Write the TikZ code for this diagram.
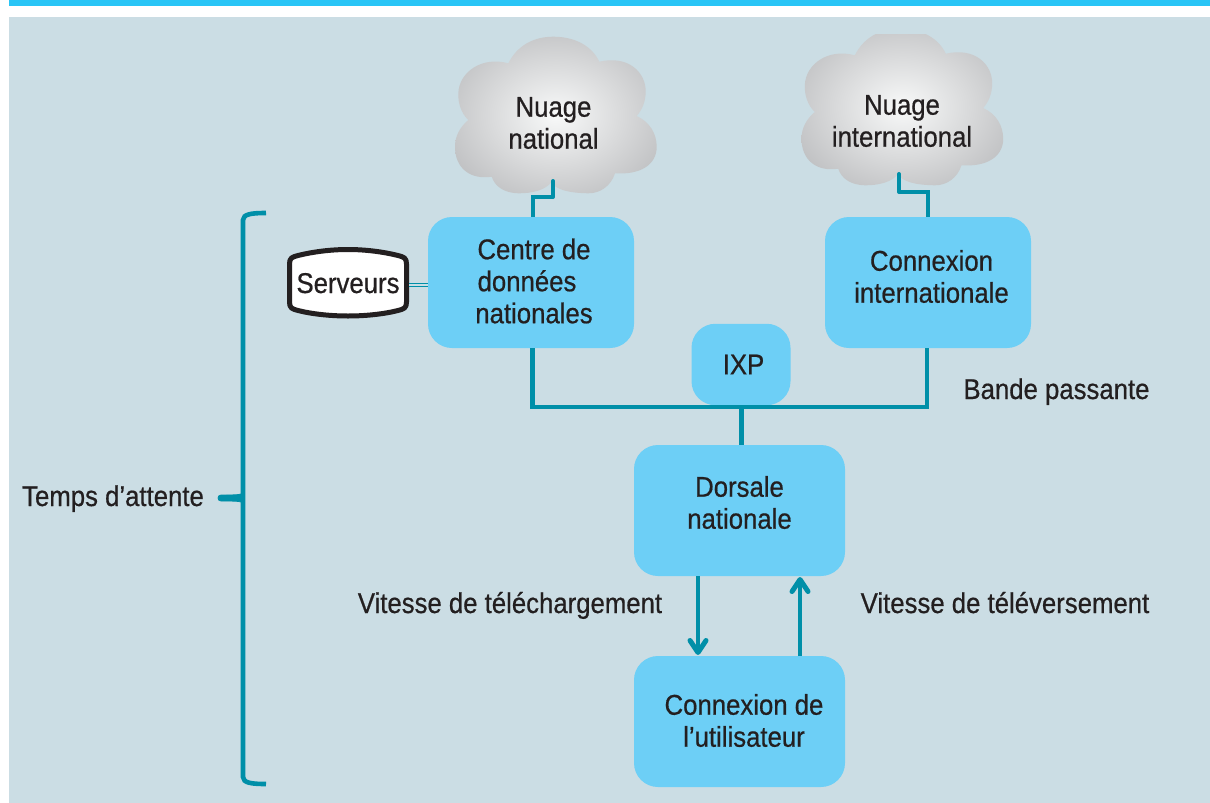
\documentclass[tikz,border=0pt]{standalone}
\usepackage{fontspec}
\setmainfont[FakeStretch=0.90,FakeBold=0.6]{Liberation Sans}
\usetikzlibrary{arrows.meta}
\definecolor{panel}{HTML}{CBDDE4}
\definecolor{topbar}{HTML}{29C5F6}
\definecolor{boxblue}{HTML}{6DCFF6}
\definecolor{teal}{HTML}{008FA8}
\definecolor{ink}{HTML}{231F20}
\definecolor{cloudedge}{HTML}{BBBCBE}
\definecolor{cloudmid}{HTML}{F8F9F9}
\pgfdeclareradialshading{cloudglow}{\pgfpoint{0bp}{0bp}}{color(0bp)=(cloudmid); color(32bp)=(cloudedge); color(50bp)=(cloudedge)}
\newcommand{\cloudshape}{
  (508.3,63.3) .. controls (517,46) and (533,36.7) .. (553.3,36.7)
  .. controls (575,36.7) and (592,46) .. (599.3,61.7)
  .. controls (628,55) and (646,72) .. (645.7,92)
  .. controls (645.5,102) and (642,110) .. (636.7,116)
  .. controls (650,122) and (656.7,134) .. (656.7,146.7)
  .. controls (656.7,165) and (640,175) .. (615,173.3)
  .. controls (611,186) and (600,193.5) .. (588.3,193.3)
  .. controls (570,193) and (555,190) .. (551.7,181.7)
  .. controls (546,190) and (532,193.5) .. (518.3,193.3)
  .. controls (505,193) and (495,187) .. (491.7,176.7)
  .. controls (470,180) and (455,168) .. (455,146.7)
  .. controls (455,136) and (460,127) .. (468.3,120)
  .. controls (461,113) and (458,103) .. (458.3,93.3)
  .. controls (459,72) and (482,56) .. (508.3,63.3) -- cycle}
\tikzset{
  bx/.style={fill=boxblue,rounded corners=24pt,minimum width=#1,minimum height=131pt,inner sep=0pt,outer sep=0pt},
  lbl/.style={font=\fontsize{28.6}{32}\selectfont,text=ink,align=center,inner sep=0pt},
  link/.style={draw=teal,line width=4.7pt},
  clink/.style={draw=teal,line width=4pt},
  flow/.style={draw=teal,line width=4.7pt,-{Straight Barb[length=12pt,width=16pt,line width=5pt,round]}},
}
\begin{document}
\begin{tikzpicture}[x=1pt,y=-1pt]
\useasboundingbox (0,0) rectangle (1210,803);
\fill[white] (0,0) rectangle (1210,803);
\fill[topbar] (9,0) rectangle (1210,6);
\fill[panel] (9,17) rectangle (1210,803);

% clouds
\shade[shading=cloudglow] \cloudshape;
\begin{scope}
\clip (780,34) rectangle (1020,210);
\begin{scope}[shift={(346.5,-8)}]
\shade[shading=cloudglow] \cloudshape;
\end{scope}
\end{scope}
\node[lbl] (nn) at (553.5,123) {Nuage\\national};
\node[lbl] (ni) at (902,121) {Nuage\\international};
\coordinate (nnport) at (553,181);
\coordinate (niport) at (899,174);

% boxes
\node[bx=206pt,label={[lbl,xshift=3pt,yshift=1.5pt]center:Centre de\\\hspace*{-14pt}données\\nationales}] (cd) at (531,282.5) {};
\node[bx=206pt,label={[lbl,xshift=3.5pt,yshift=6pt]center:Connexion\\internationale}] (ci) at (928,282.5) {};
\node[bx=99pt,minimum height=81.5pt,label={[lbl,xshift=2.5pt]center:IXP}] (ixp) at (741,364.5) {};
\node[bx=211pt,label={[lbl,yshift=8pt]center:Dorsale\\nationale}] (ds) at (739.5,510.5) {};
\node[bx=211pt,label={[lbl,xshift=4.5pt,yshift=1pt]center:Connexion de\\l’utilisateur}] (cu) at (739.5,721.5) {};

% junction
\coordinate (jl) at ([xshift=1.5pt]cd.south |- 0,407);
\coordinate (jr) at ([xshift=-1pt]ci.south |- 0,407);
\coordinate (jm) at (741.5,407);
\draw[link,line join=miter] ([xshift=1.5pt]cd.south) -- (jl) -- (jr) -- ([xshift=-1pt]ci.south);
\draw[link] (jm) -- (jm |- ds.north);

% cloud links
\coordinate (nnb) at (553,197);
\draw[clink,line cap=round] (nnport) -- (nnb);
\draw[clink,line join=miter] (nnport |- nnb) -- ([xshift=1.5pt]nnb -| cd.north) -- ([xshift=1.5pt]cd.north);
\coordinate (nib) at (899,192);
\draw[clink,line cap=round] (niport) -- (nib);
\draw[clink,line join=miter] (nib) -- (nib -| ci.north) -- (ci.north);

% serveurs
\draw[fill=white,draw=ink,line width=5pt,line join=round]
  (289.5,264) .. controls (289.5,258) and (292,257) .. (298,255.5)
  .. controls (312,252) and (330,249.5) .. (348,249.5)
  .. controls (366,249.5) and (384,252) .. (398,255.5)
  .. controls (404,257) and (406.5,258) .. (406.5,264)
  -- (406.5,302) .. controls (406.5,308) and (404,309) .. (398,310.5)
  .. controls (384,314) and (366,316) .. (348,316)
  .. controls (330,316) and (312,314) .. (298,310.5)
  .. controls (292,309) and (289.5,308) .. (289.5,302) -- cycle;
\node[lbl,anchor=base] (srv) at (348,293) {Serveurs};
\coordinate (srve) at (409,285);
\draw[draw=teal,line width=1.5pt,double=panel,double distance=1.2pt] (srve) -- (srve -| cd.west);

% arrows
\coordinate (dla) at (698,576);
\coordinate (dlb) at (698,655);
\coordinate (ula) at (800,656);
\coordinate (ulb) at (800,577);
\draw[flow] (dla) -- (dlb);
\draw[flow] (ula) -- (ulb);

% bracket
\coordinate (bt) at (266,213);
\coordinate (bb) at (266,784);
\draw[draw=teal,line width=4.6pt] (bt) .. controls (252,213) and (243,214) .. (243,220) -- (243,777) .. controls (243,783) and (252,784) .. (bb);
\draw[fill=teal,draw=teal,line width=0.8pt,line cap=round,line join=round] (243,492) .. controls (243,495) and (236,495) .. (221,495) .. controls (217,495) and (217,501) .. (221,501) .. controls (236,501) and (243,501) .. (243,504) -- cycle;

% free labels
\node[lbl,anchor=base] (ta) at (113,506) {Temps d’attente};
\node[lbl,anchor=base] (bp) at (1056.5,399) {Bande passante};
\node[lbl,anchor=base] (vd) at (510,613) {Vitesse de téléchargement};
\node[lbl,anchor=base] (vu) at (1005,613) {Vitesse de téléversement};
\end{tikzpicture}
\end{document}
